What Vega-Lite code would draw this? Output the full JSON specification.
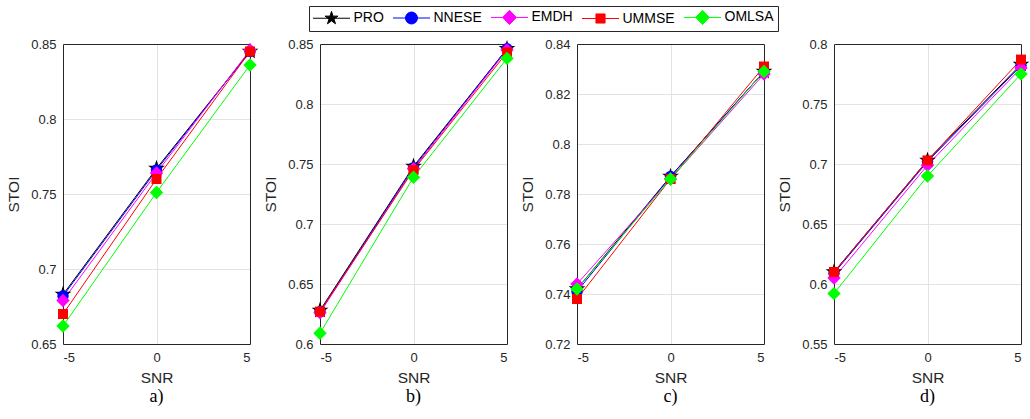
{
  "$schema": "https://vega.github.io/schema/vega-lite/v6.json",
  "padding": {"left": 6, "top": 5, "right": 0, "bottom": 0},
  "background": "#ffffff",
  "data": {"values": [
    {"panel": "a", "method": "PRO", "snr": -5, "stoi": 0.683},
    {"panel": "a", "method": "PRO", "snr": 0, "stoi": 0.767},
    {"panel": "a", "method": "PRO", "snr": 5, "stoi": 0.845},
    {"panel": "a", "method": "NNESE", "snr": -5, "stoi": 0.682},
    {"panel": "a", "method": "NNESE", "snr": 0, "stoi": 0.766},
    {"panel": "a", "method": "NNESE", "snr": 5, "stoi": 0.845},
    {"panel": "a", "method": "EMDH", "snr": -5, "stoi": 0.679},
    {"panel": "a", "method": "EMDH", "snr": 0, "stoi": 0.764},
    {"panel": "a", "method": "EMDH", "snr": 5, "stoi": 0.846},
    {"panel": "a", "method": "UMMSE", "snr": -5, "stoi": 0.670},
    {"panel": "a", "method": "UMMSE", "snr": 0, "stoi": 0.760},
    {"panel": "a", "method": "UMMSE", "snr": 5, "stoi": 0.845},
    {"panel": "a", "method": "OMLSA", "snr": -5, "stoi": 0.662},
    {"panel": "a", "method": "OMLSA", "snr": 0, "stoi": 0.751},
    {"panel": "a", "method": "OMLSA", "snr": 5, "stoi": 0.836},
    {"panel": "b", "method": "PRO", "snr": -5, "stoi": 0.628},
    {"panel": "b", "method": "PRO", "snr": 0, "stoi": 0.748},
    {"panel": "b", "method": "PRO", "snr": 5, "stoi": 0.846},
    {"panel": "b", "method": "NNESE", "snr": -5, "stoi": 0.627},
    {"panel": "b", "method": "NNESE", "snr": 0, "stoi": 0.747},
    {"panel": "b", "method": "NNESE", "snr": 5, "stoi": 0.846},
    {"panel": "b", "method": "EMDH", "snr": -5, "stoi": 0.626},
    {"panel": "b", "method": "EMDH", "snr": 0, "stoi": 0.746},
    {"panel": "b", "method": "EMDH", "snr": 5, "stoi": 0.845},
    {"panel": "b", "method": "UMMSE", "snr": -5, "stoi": 0.627},
    {"panel": "b", "method": "UMMSE", "snr": 0, "stoi": 0.745},
    {"panel": "b", "method": "UMMSE", "snr": 5, "stoi": 0.843},
    {"panel": "b", "method": "OMLSA", "snr": -5, "stoi": 0.609},
    {"panel": "b", "method": "OMLSA", "snr": 0, "stoi": 0.739},
    {"panel": "b", "method": "OMLSA", "snr": 5, "stoi": 0.838},
    {"panel": "c", "method": "PRO", "snr": -5, "stoi": 0.742},
    {"panel": "c", "method": "PRO", "snr": 0, "stoi": 0.787},
    {"panel": "c", "method": "PRO", "snr": 5, "stoi": 0.829},
    {"panel": "c", "method": "NNESE", "snr": -5, "stoi": 0.741},
    {"panel": "c", "method": "NNESE", "snr": 0, "stoi": 0.787},
    {"panel": "c", "method": "NNESE", "snr": 5, "stoi": 0.829},
    {"panel": "c", "method": "EMDH", "snr": -5, "stoi": 0.744},
    {"panel": "c", "method": "EMDH", "snr": 0, "stoi": 0.786},
    {"panel": "c", "method": "EMDH", "snr": 5, "stoi": 0.828},
    {"panel": "c", "method": "UMMSE", "snr": -5, "stoi": 0.738},
    {"panel": "c", "method": "UMMSE", "snr": 0, "stoi": 0.786},
    {"panel": "c", "method": "UMMSE", "snr": 5, "stoi": 0.831},
    {"panel": "c", "method": "OMLSA", "snr": -5, "stoi": 0.742},
    {"panel": "c", "method": "OMLSA", "snr": 0, "stoi": 0.786},
    {"panel": "c", "method": "OMLSA", "snr": 5, "stoi": 0.829},
    {"panel": "d", "method": "PRO", "snr": -5, "stoi": 0.610},
    {"panel": "d", "method": "PRO", "snr": 0, "stoi": 0.703},
    {"panel": "d", "method": "PRO", "snr": 5, "stoi": 0.783},
    {"panel": "d", "method": "NNESE", "snr": -5, "stoi": 0.609},
    {"panel": "d", "method": "NNESE", "snr": 0, "stoi": 0.702},
    {"panel": "d", "method": "NNESE", "snr": 5, "stoi": 0.782},
    {"panel": "d", "method": "EMDH", "snr": -5, "stoi": 0.605},
    {"panel": "d", "method": "EMDH", "snr": 0, "stoi": 0.699},
    {"panel": "d", "method": "EMDH", "snr": 5, "stoi": 0.780},
    {"panel": "d", "method": "UMMSE", "snr": -5, "stoi": 0.610},
    {"panel": "d", "method": "UMMSE", "snr": 0, "stoi": 0.703},
    {"panel": "d", "method": "UMMSE", "snr": 5, "stoi": 0.787},
    {"panel": "d", "method": "OMLSA", "snr": -5, "stoi": 0.592},
    {"panel": "d", "method": "OMLSA", "snr": 0, "stoi": 0.690},
    {"panel": "d", "method": "OMLSA", "snr": 5, "stoi": 0.775}
  ]},
  "bounds": "flush",
  "spacing": 70,
  "hconcat": [
    {
      "width": 187, "height": 300,
      "title": {"text": "a)"},
      "transform": [{"filter": "datum.panel === 'a'"}],
      "resolve": {"axis": {"x": "independent", "y": "independent"}},
      "layer": [
        {"mark": {"type": "line", "strokeWidth": 1},
         "encoding": {
           "x": {"field": "snr", "type": "quantitative", "title": "SNR",
                 "scale": {"domain": [-5, 5], "nice": false, "zero": false},
                 "axis": {"values": [-5, 0, 5], "labelExpr": "'' + datum.value", "grid": false, "domain": true}},
           "y": {"field": "stoi", "type": "quantitative", "title": "STOI",
                 "scale": {"domain": [0.65, 0.85], "nice": false, "zero": false},
                 "axis": {"values": [0.65, 0.7, 0.75, 0.8, 0.85], "labelExpr": "'' + datum.value", "grid": false, "domain": true}},
           "color": {"field": "method", "type": "nominal",
                     "scale": {"domain": ["PRO", "NNESE", "EMDH", "UMMSE", "OMLSA"], "range": ["#000000", "#0000ff", "#ff00ff", "#ff0000", "#00ff00"]},
                     "legend": {
                       "title": null, "orient": "none", "legendX": 246, "legendY": -38,
                       "direction": "horizontal", "columns": 5,
                       "labelFont": "Liberation Sans", "labelFontSize": 14, "labelColor": "#000000",
                       "symbolSize": 169, "symbolOffset": 11.5, "labelOffset": 15, "columnPadding": 6,
                       "padding": 4, "strokeColor": "#262626", "fillColor": "#ffffff",
                       "encode": {"symbols": {"update": {
                         "shape": {"signal": "datum.value === 'PRO' ? 'M-2.85,0L2.85,0M0,-1.05L0.236,-0.324L0.999,-0.324L0.381,0.124L0.617,0.849L0,0.401L-0.617,0.849L-0.381,0.124L-0.999,-0.324L-0.236,-0.324Z' : datum.value === 'NNESE' ? 'M-2.85,0L2.85,0M0.92,0A0.92,0.92,0,1,1,-0.92,0A0.92,0.92,0,1,1,0.92,0Z' : datum.value === 'UMMSE' ? 'M-2.85,0L2.85,0M-0.7,-0.7L0.7,-0.7L0.7,0.7L-0.7,0.7Z' : 'M-2.85,0L2.85,0M0,-1.1L1.05,0L0,1.1L-1.05,0Z'"},
                         "fill": {"signal": "scale('color', datum.value)"},
                         "stroke": {"signal": "scale('color', datum.value)"},
                         "strokeWidth": {"value": 1},
                         "size": {"value": 169},
                         "opacity": {"value": 1},
                         "fillOpacity": {"value": 1},
                         "strokeOpacity": {"value": 1}
                       }}}
                     }}
         }},
        {"mark": {"type": "point", "filled": true, "opacity": 1},
         "encoding": {
           "x": {"field": "snr", "type": "quantitative", "scale": {"domain": [-5, 5], "nice": false, "zero": false},
                 "axis": {"orient": "top", "values": [0], "labels": false, "title": null, "grid": true, "domain": true}},
           "y": {"field": "stoi", "type": "quantitative", "scale": {"domain": [0.65, 0.85], "nice": false, "zero": false},
                 "axis": {"orient": "right", "values": [0.7, 0.75, 0.8], "labels": false, "title": null, "grid": true, "domain": true}},
           "color": {"field": "method", "type": "nominal"},
           "shape": {"field": "method", "type": "nominal", "legend": null,
                     "scale": {"domain": ["NNESE", "PRO", "EMDH", "UMMSE", "OMLSA"], "range": ["circle", "M0,-1L0.2245,-0.309L0.9511,-0.309L0.3633,0.118L0.5878,0.809L0,0.382L-0.5878,0.809L-0.3633,0.118L-0.9511,-0.309L-0.2245,-0.309Z", "diamond", "square", "diamond"]}},
           "size": {"field": "method", "type": "ordinal", "legend": null,
                    "scale": {"type": "ordinal", "domain": ["EMDH", "PRO", "NNESE", "UMMSE", "OMLSA"], "range": [180, 310, 130, 100, 180]}}
         }}
      ]
    },
    {
      "width": 187, "height": 300,
      "title": {"text": "b)"},
      "transform": [{"filter": "datum.panel === 'b'"}],
      "resolve": {"axis": {"x": "independent", "y": "independent"}},
      "layer": [
        {"mark": {"type": "line", "strokeWidth": 1},
         "encoding": {
           "x": {"field": "snr", "type": "quantitative", "title": "SNR",
                 "scale": {"domain": [-5, 5], "nice": false, "zero": false},
                 "axis": {"values": [-5, 0, 5], "labelExpr": "'' + datum.value", "grid": false, "domain": true}},
           "y": {"field": "stoi", "type": "quantitative", "title": "STOI",
                 "scale": {"domain": [0.6, 0.85], "nice": false, "zero": false},
                 "axis": {"values": [0.6, 0.65, 0.7, 0.75, 0.8, 0.85], "labelExpr": "'' + datum.value", "grid": false, "domain": true}},
           "color": {"field": "method", "type": "nominal"}
         }},
        {"mark": {"type": "point", "filled": true, "opacity": 1},
         "encoding": {
           "x": {"field": "snr", "type": "quantitative", "scale": {"domain": [-5, 5], "nice": false, "zero": false},
                 "axis": {"orient": "top", "values": [0], "labels": false, "title": null, "grid": true, "domain": true}},
           "y": {"field": "stoi", "type": "quantitative", "scale": {"domain": [0.6, 0.85], "nice": false, "zero": false},
                 "axis": {"orient": "right", "values": [0.65, 0.7, 0.75, 0.8], "labels": false, "title": null, "grid": true, "domain": true}},
           "color": {"field": "method", "type": "nominal"},
           "shape": {"field": "method", "type": "nominal", "legend": null,
                     "scale": {"domain": ["NNESE", "PRO", "EMDH", "UMMSE", "OMLSA"], "range": ["circle", "M0,-1L0.2245,-0.309L0.9511,-0.309L0.3633,0.118L0.5878,0.809L0,0.382L-0.5878,0.809L-0.3633,0.118L-0.9511,-0.309L-0.2245,-0.309Z", "diamond", "square", "diamond"]}},
           "size": {"field": "method", "type": "ordinal", "legend": null,
                    "scale": {"type": "ordinal", "domain": ["EMDH", "PRO", "NNESE", "UMMSE", "OMLSA"], "range": [180, 310, 130, 100, 180]}}
         }}
      ]
    },
    {
      "width": 187, "height": 300,
      "title": {"text": "c)"},
      "transform": [{"filter": "datum.panel === 'c'"}],
      "resolve": {"axis": {"x": "independent", "y": "independent"}},
      "layer": [
        {"mark": {"type": "line", "strokeWidth": 1},
         "encoding": {
           "x": {"field": "snr", "type": "quantitative", "title": "SNR",
                 "scale": {"domain": [-5, 5], "nice": false, "zero": false},
                 "axis": {"values": [-5, 0, 5], "labelExpr": "'' + datum.value", "grid": false, "domain": true}},
           "y": {"field": "stoi", "type": "quantitative", "title": "STOI",
                 "scale": {"domain": [0.72, 0.84], "nice": false, "zero": false},
                 "axis": {"values": [0.72, 0.74, 0.76, 0.78, 0.8, 0.82, 0.84], "labelExpr": "'' + datum.value", "grid": false, "domain": true}},
           "color": {"field": "method", "type": "nominal"}
         }},
        {"mark": {"type": "point", "filled": true, "opacity": 1},
         "encoding": {
           "x": {"field": "snr", "type": "quantitative", "scale": {"domain": [-5, 5], "nice": false, "zero": false},
                 "axis": {"orient": "top", "values": [0], "labels": false, "title": null, "grid": true, "domain": true}},
           "y": {"field": "stoi", "type": "quantitative", "scale": {"domain": [0.72, 0.84], "nice": false, "zero": false},
                 "axis": {"orient": "right", "values": [0.74, 0.76, 0.78, 0.8, 0.82], "labels": false, "title": null, "grid": true, "domain": true}},
           "color": {"field": "method", "type": "nominal"},
           "shape": {"field": "method", "type": "nominal", "legend": null,
                     "scale": {"domain": ["NNESE", "PRO", "EMDH", "UMMSE", "OMLSA"], "range": ["circle", "M0,-1L0.2245,-0.309L0.9511,-0.309L0.3633,0.118L0.5878,0.809L0,0.382L-0.5878,0.809L-0.3633,0.118L-0.9511,-0.309L-0.2245,-0.309Z", "diamond", "square", "diamond"]}},
           "size": {"field": "method", "type": "ordinal", "legend": null,
                    "scale": {"type": "ordinal", "domain": ["EMDH", "PRO", "NNESE", "UMMSE", "OMLSA"], "range": [180, 310, 130, 100, 180]}}
         }}
      ]
    },
    {
      "width": 187, "height": 300,
      "title": {"text": "d)"},
      "transform": [{"filter": "datum.panel === 'd'"}],
      "resolve": {"axis": {"x": "independent", "y": "independent"}},
      "layer": [
        {"mark": {"type": "line", "strokeWidth": 1},
         "encoding": {
           "x": {"field": "snr", "type": "quantitative", "title": "SNR",
                 "scale": {"domain": [-5, 5], "nice": false, "zero": false},
                 "axis": {"values": [-5, 0, 5], "labelExpr": "'' + datum.value", "grid": false, "domain": true}},
           "y": {"field": "stoi", "type": "quantitative", "title": "STOI",
                 "scale": {"domain": [0.55, 0.8], "nice": false, "zero": false},
                 "axis": {"values": [0.55, 0.6, 0.65, 0.7, 0.75, 0.8], "labelExpr": "'' + datum.value", "grid": false, "domain": true}},
           "color": {"field": "method", "type": "nominal"}
         }},
        {"mark": {"type": "point", "filled": true, "opacity": 1},
         "encoding": {
           "x": {"field": "snr", "type": "quantitative", "scale": {"domain": [-5, 5], "nice": false, "zero": false},
                 "axis": {"orient": "top", "values": [0], "labels": false, "title": null, "grid": true, "domain": true}},
           "y": {"field": "stoi", "type": "quantitative", "scale": {"domain": [0.55, 0.8], "nice": false, "zero": false},
                 "axis": {"orient": "right", "values": [0.6, 0.65, 0.7, 0.75], "labels": false, "title": null, "grid": true, "domain": true}},
           "color": {"field": "method", "type": "nominal"},
           "shape": {"field": "method", "type": "nominal", "legend": null,
                     "scale": {"domain": ["NNESE", "PRO", "EMDH", "UMMSE", "OMLSA"], "range": ["circle", "M0,-1L0.2245,-0.309L0.9511,-0.309L0.3633,0.118L0.5878,0.809L0,0.382L-0.5878,0.809L-0.3633,0.118L-0.9511,-0.309L-0.2245,-0.309Z", "diamond", "square", "diamond"]}},
           "size": {"field": "method", "type": "ordinal", "legend": null,
                    "scale": {"type": "ordinal", "domain": ["EMDH", "PRO", "NNESE", "UMMSE", "OMLSA"], "range": [180, 310, 130, 100, 180]}}
         }}
      ]
    }
  ],
  "config": {
    "view": {"stroke": null},
    "axis": {
      "labelFont": "Liberation Sans", "labelFontSize": 13, "labelColor": "#262626",
      "titleFont": "Liberation Sans", "titleFontSize": 15.5, "titleFontWeight": "normal", "titleColor": "#262626",
      "gridColor": "#e3e3e3", "gridOpacity": 1, "gridWidth": 1,
      "domainColor": "#262626", "domainWidth": 1,
      "ticks": false, "tickSize": 0
    },
    "axisX": {"labelPadding": 7, "titlePadding": 6},
    "axisY": {"labelPadding": 7, "titlePadding": 9},
    "title": {"orient": "bottom", "font": "Liberation Serif", "fontSize": 18, "fontWeight": "normal", "color": "#000000", "offset": 2, "anchor": "middle", "frame": "group"}
  }
}
